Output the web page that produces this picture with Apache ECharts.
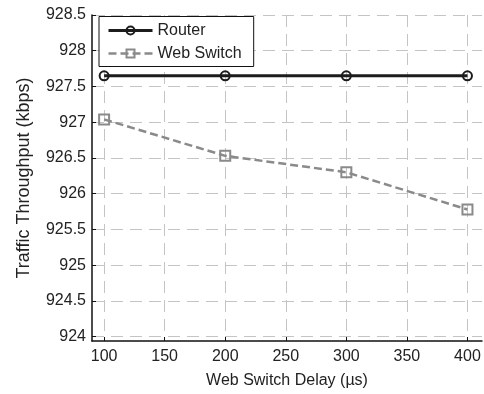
<!DOCTYPE html>
<html>
<head>
<meta charset="utf-8">
<script src="https://cdn.jsdelivr.net/npm/echarts@6/dist/echarts.min.js"></script>
<style>
  html, body { margin: 0; padding: 0; background: #fff; }
  #chart { width: 484px; height: 394px; }
</style>
</head>
<body>
<div id="chart"></div>
<script>
// Web switch delay (µs) on the x axis
const delays = [100, 200, 300, 400];
// Throughput in kbps for each configuration
const routerThroughput = [927.65, 927.65, 927.65, 927.65];
const switchThroughput = [927.04, 926.53, 926.30, 925.78];
// Tick positions
const xTicks = [100, 150, 200, 250, 300, 350, 400];
const yTicks = [924, 924.5, 925, 925.5, 926, 926.5, 927, 927.5, 928, 928.5];

const FONT = '"Liberation Sans", Arial, Helvetica, sans-serif';
const gridLine = { show: true, lineStyle: { color: '#c4c4c4', width: 1, type: [12, 7] } };

const chart = echarts.init(document.getElementById('chart'), null, { renderer: 'canvas' });

chart.setOption({
  animation: false,
  backgroundColor: '#fff',
  textStyle: { fontFamily: FONT },
  grid: { left: 92, right: 2, top: 15, bottom: 50.5, containLabel: false },
  legend: {
    orient: 'vertical',
    left: 99,
    top: 16.5,
    padding: [6, 12, 5, 8],
    itemGap: 7,
    itemWidth: 44,
    itemHeight: 10,
    backgroundColor: '#fff',
    borderColor: '#111',
    borderWidth: 1,
    borderRadius: 0,
    textStyle: { fontFamily: FONT, fontSize: 16, color: '#222' },
    data: [
      { name: 'Router', lineStyle: { width: 3 } },
      { name: 'Web Switch', lineStyle: { width: 2.5 } }
    ]
  },
  xAxis: {
    type: 'value',
    min: 90,
    max: 412,
    name: 'Web Switch Delay (\u00b5s)',
    nameLocation: 'middle',
    nameGap: 32,
    nameTextStyle: { fontFamily: FONT, fontSize: 16, color: '#222' },
    axisLine: { show: true, onZero: false, lineStyle: { color: '#111', width: 1.5 } },
    axisTick: { show: true, inside: true, length: 4, customValues: xTicks, lineStyle: { color: '#111' } },
    axisLabel: { customValues: xTicks, margin: 8, fontFamily: FONT, fontSize: 16, color: '#222' },
    splitLine: gridLine
  },
  yAxis: {
    type: 'value',
    min: 923.94,
    max: 928.5,
    name: 'Traffic Throughput (kbps)',
    nameLocation: 'middle',
    nameGap: 59,
    nameRotate: 90,
    nameTextStyle: { fontFamily: FONT, fontSize: 18, color: '#222' },
    axisLine: { show: true, lineStyle: { color: '#111', width: 1.5 } },
    axisTick: { show: true, inside: true, length: 4, customValues: yTicks, lineStyle: { color: '#111' } },
    axisLabel: { customValues: yTicks, margin: 6, fontFamily: FONT, fontSize: 16, color: '#222' },
    splitLine: gridLine
  },
  series: [
    {
      name: 'Router',
      type: 'line',
      data: delays.map((d, i) => [d, routerThroughput[i]]),
      color: '#1c1c1c',
      lineStyle: { color: '#1c1c1c', width: 3 },
      symbol: 'circle',
      symbolSize: 9,
      itemStyle: { color: 'rgba(255,255,255,0)', borderColor: '#1c1c1c', borderWidth: 2 },
      z: 3
    },
    {
      name: 'Web Switch',
      type: 'line',
      data: delays.map((d, i) => [d, switchThroughput[i]]),
      color: '#8a8a8a',
      lineStyle: { color: '#8a8a8a', width: 2.5, type: [8, 4] },
      symbol: 'rect',
      symbolSize: 10,
      itemStyle: { color: 'rgba(255,255,255,0)', borderColor: '#8a8a8a', borderWidth: 2 },
      z: 2
    }
  ]
});
</script>
</body>
</html>
